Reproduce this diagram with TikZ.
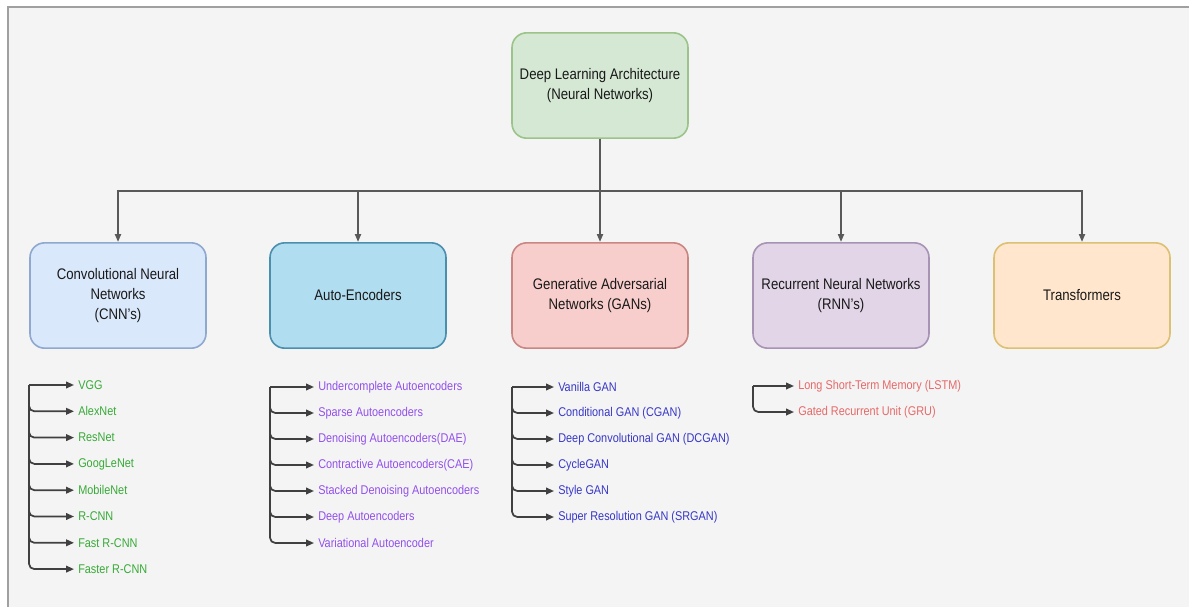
\documentclass[tikz,border=0pt]{standalone}
\usepackage{fontspec}
\setmainfont{Liberation Sans}[FakeStretch=0.86]
\usetikzlibrary{arrows.meta}
\definecolor{bgc}{HTML}{F4F4F4}
\definecolor{framec}{HTML}{A0A0A0}
\definecolor{topf}{HTML}{D5E8D4}\definecolor{topd}{HTML}{9CC48A}
\definecolor{cnnf}{HTML}{DAE8FC}\definecolor{cnnd}{HTML}{8FA8CF}
\definecolor{aef}{HTML}{B1DDF0}\definecolor{aed}{HTML}{4A8FAE}
\definecolor{ganf}{HTML}{F8CECC}\definecolor{gand}{HTML}{C98784}
\definecolor{rnnf}{HTML}{E1D5E7}\definecolor{rnnd}{HTML}{A893B5}
\definecolor{trf}{HTML}{FFE6CC}\definecolor{trd}{HTML}{DCC073}
\definecolor{cnntxt}{RGB}{55,170,55}
\definecolor{aetxt}{RGB}{145,80,235}
\definecolor{gantxt}{RGB}{55,55,200}
\definecolor{rnntxt}{RGB}{230,105,105}
\tikzset{
  box/.style={draw, rounded corners=11pt, minimum width=132pt, minimum height=79pt,
    align=center, font=\fontsize{11.5}{15}\selectfont, line width=1.2pt, text=black!90},
  item/.style={anchor=west, inner xsep=3pt, inner ysep=1pt, font=\fontsize{9.5}{11}\selectfont},
  arr/.style={-{Triangle[length=6pt,width=4.5pt]}, line width=1.4pt, draw=black!65},
  subarr/.style={-{Triangle[length=6pt,width=5pt]}, line width=1.3pt, draw=black!75, rounded corners=4pt}
}
\begin{document}
\begin{tikzpicture}[x=0.75pt,y=-0.75pt]
\useasboundingbox (0,0) rectangle (1189,607);
\fill[white] (0,0) rectangle (1189,607);
\fill[bgc] (8,7) rectangle (1189,607);
\draw[framec, line width=1.8pt] (8,607) -- (8,7) -- (1189,7);

\node[box, fill=topf, draw=topd] (top) at (600,85.5) {Deep Learning Architecture\\(Neural Networks)};
\node[box, fill=cnnf, draw=cnnd] (cnn) at (118,295.5) {Convolutional Neural\\Networks\\(CNN's)};
\node[box, fill=aef, draw=aed] (ae) at (358,295.5) {Auto-Encoders};
\node[box, fill=ganf, draw=gand] (gan) at (600,295.5) {Generative Adversarial\\Networks (GANs)};
\node[box, fill=rnnf, draw=rnnd] (rnn) at (841,295.5) {Recurrent Neural Networks\\(RNN's)};
\node[box, fill=trf, draw=trd] (tr) at (1082,295.5) {Transformers};

\coordinate (bus) at (600,191);
\foreach \c in {cnn,ae,gan,rnn,tr}{
  \draw[arr] (top.south) -- (bus) -| (\c.north);
}

% CNN list
\coordinate (cnnbus) at (29,385);
\foreach \t [count=\i] in {VGG,AlexNet,ResNet,GoogLeNet,MobileNet,R-CNN,Fast R-CNN,Faster R-CNN}{
  \node[item, text=cnntxt] (cnn\i) at (74,{385+26.3*(\i-1)}) {\t};
  \ifnum\i=1 \draw[subarr] (cnnbus) -- (cnn\i.west);
  \else \draw[subarr] (cnnbus) |- (cnn\i.west); \fi
}
% AE list
\coordinate (aebus) at (270,387);
\foreach \t [count=\i] in {Undercomplete Autoencoders,Sparse Autoencoders,Denoising Autoencoders(DAE),Contractive Autoencoders(CAE),Stacked Denoising Autoencoders,Deep Autoencoders,Variational Autoencoder}{
  \node[item, text=aetxt] (ae\i) at (314,{387+26*(\i-1)}) {\t};
  \ifnum\i=1 \draw[subarr] (aebus) -- (ae\i.west);
  \else \draw[subarr] (aebus) |- (ae\i.west); \fi
}
% GAN list
\coordinate (ganbus) at (512,387);
\foreach \t [count=\i] in {Vanilla GAN,Conditional GAN (CGAN),Deep Convolutional GAN (DCGAN),CycleGAN,Style GAN,Super Resolution GAN (SRGAN)}{
  \node[item, text=gantxt] (gan\i) at (554,{387+26*(\i-1)}) {\t};
  \ifnum\i=1 \draw[subarr] (ganbus) -- (gan\i.west);
  \else \draw[subarr] (ganbus) |- (gan\i.west); \fi
}
% RNN list
\coordinate (rnnbus) at (753,386);
\foreach \t [count=\i] in {Long Short-Term Memory (LSTM),Gated Recurrent Unit (GRU)}{
  \node[item, text=rnntxt] (rnn\i) at (794,{386+26*(\i-1)}) {\t};
  \ifnum\i=1 \draw[subarr] (rnnbus) -- (rnn\i.west);
  \else \draw[subarr] (rnnbus) |- (rnn\i.west); \fi
}
\end{tikzpicture}
\end{document}
